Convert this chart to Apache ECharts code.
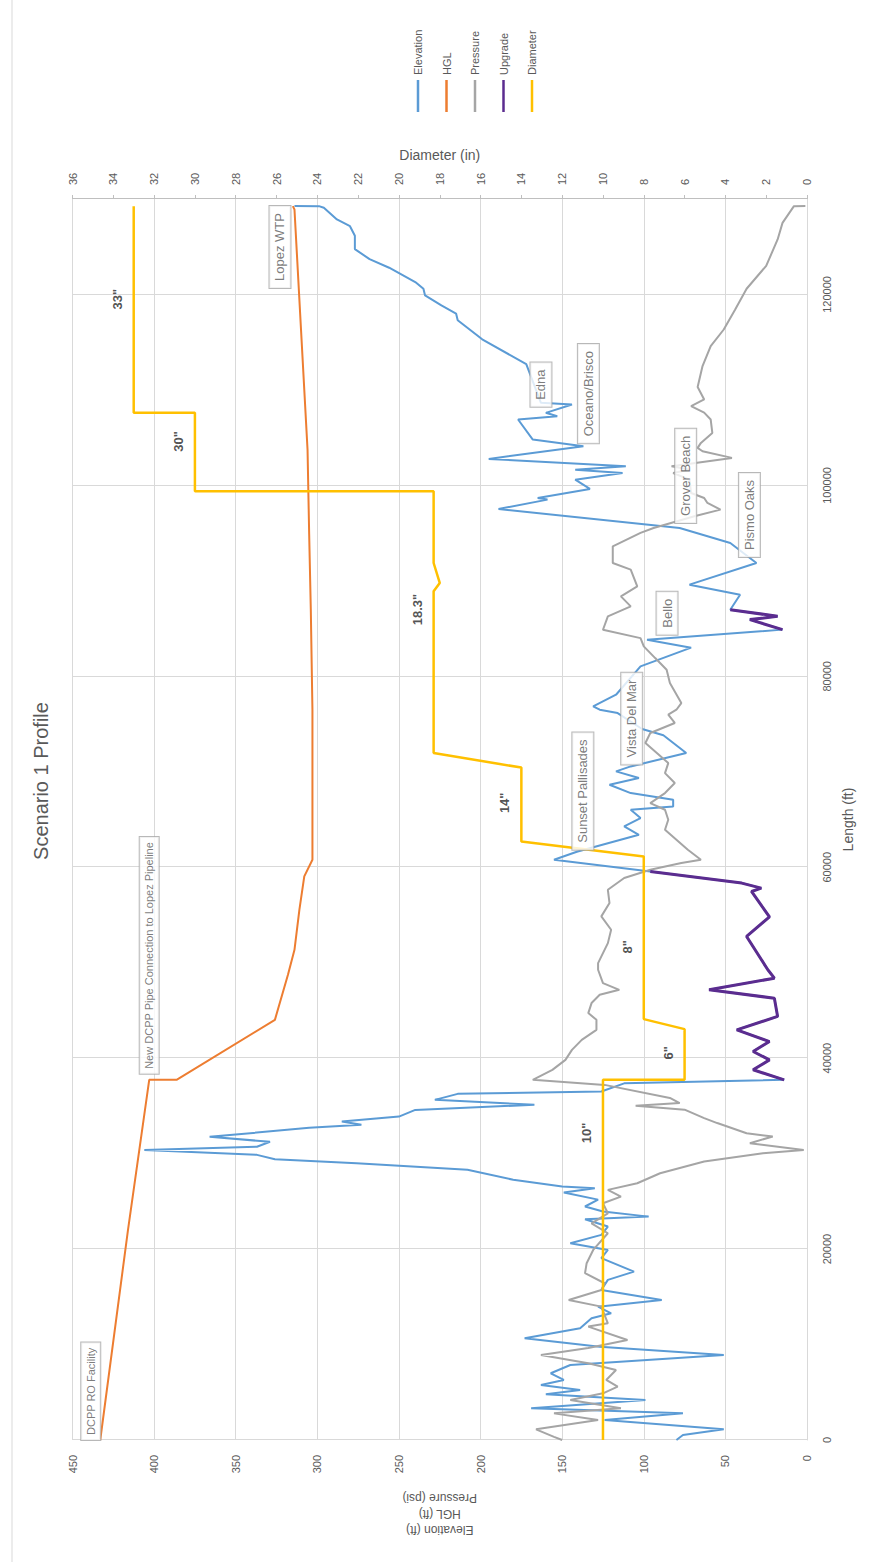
<!DOCTYPE html>
<html><head><meta charset="utf-8">
<script src="https://cdn.jsdelivr.net/npm/echarts@6/dist/echarts.min.js"></script>
<style>
html,body{margin:0;padding:0;width:875px;height:1562px;overflow:hidden;background:#fff;}
#wrap{position:absolute;left:0;top:0;width:1562px;height:875px;transform-origin:0 0;transform:translate(0,1562px) rotate(-90deg);}
#chart{width:1562px;height:875px;}
</style></head><body>
<div id="wrap"><div id="chart"></div></div>
<script>
// ---------- DATA (length ft, value) ----------
const elevA = [[0,80],[520,76],[1120,51],[2100,124],[2790,76],[3320,169],[4190,99],[4790,160],[5240,139],[5770,163],[6290,149],[6990,157],[7860,145],[8910,51],[9780,127],[10660,173],[11700,139],[12750,132],[13270,120],[13970,128],[14670,89],[15720,126],[16770,122],[17640,106],[19060,126],[19910,122],[20610,145],[21490,126],[22360,122],[23130,136],[23400,97],[23930,125],[24460,136],[25180,128],[25920,149],[26380,130],[26550,150],[27260,180],[28300,208],[28990,276],[29410,326],[29870,337],[30390,406],[30720,337],[31240,329],[31760,366],[32700,305],[33020,273],[33370,285],[33880,250],[34580,240],[35110,167],[35630,228],[36260,214],[36500,126],[37360,112]];
const upgradeA = [[37730,14],[38780,33],[39820,23],[40700,33],[41740,23],[42970,43],[44370,18],[46280,20],[47160,60],[48380,20],[49260,24],[52750,37],[54800,23],[57460,34],[57810,28],[58340,40],[59560,96]];
const elevB = [[60790,155],[61620,141],[63400,103],[64270,112],[65150,102],[66020,108],[66370,82],[67070,82],[67770,108],[68640,121],[69340,103],[70040,117],[70560,108],[71960,74],[73820,88],[74480,101],[76150,116],[76500,127],[76860,131],[78070,117],[81040,102],[83000,71],[83840,98]];
const upgradeB = [[84890,15],[85940,35],[86290,18],[86980,47]];
const elevC = [[88550,41],[89600,72],[91870,31],[93970,47],[95540,78],[97530,189],[98510,159],[98680,165],[99630,133],[100600,142],[101300,113],[101650,142],[102000,111],[102770,195],[104100,137],[104800,168],[106900,177],[107250,153],[107600,160],[108470,144],[108650,163],[112700,172],[115300,199],[117300,214],[118000,215],[118850,224],[119900,234],[120600,235],[121300,240],[122800,256],[123700,268],[124750,277],[126150,277],[127150,280],[127860,288],[129080,296],[129250,299],[129260,314]];
const hgl = [[0,433],[22010,416],[37730,403],[37740,386],[44010,326],[48730,318],[51350,314],[55540,311],[59040,308],[60790,303],[76500,303],[87000,304],[94870,305],[103750,306],[128900,314],[129260,315]];
const pressure = [[0,150],[330,155],[1120,166],[2100,128],[2790,155],[3320,114],[4190,145],[4890,125],[5590,116],[6290,123],[7340,117],[8040,134],[8910,163],[9640,134],[10480,110],[11880,134],[12220,122],[13970,126],[14670,146],[15720,126],[16420,124],[17470,136],[18520,135],[19910,131],[21660,122],[22700,132],[23750,122],[24800,125],[25500,114],[26200,122],[26900,104],[27940,90],[29170,63],[30040,27],[30390,2],[31090,35],[31790,21],[32140,37],[33200,55],[33720,63],[34600,75],[35020,105],[35300,78],[35830,84],[37200,124],[37730,168],[38770,156],[39820,148],[40870,144],[41920,138],[42970,129],[44020,129],[44720,134],[45770,132],[46640,127],[47160,115],[47860,125],[49260,128],[49950,128],[52050,122],[53450,120],[54850,126],[56250,121],[57640,122],[58870,112],[59740,96],[60440,77],[60790,65],[61830,73],[62880,80],[63920,87],[64970,85],[66020,87],[66720,96],[67770,87],[68820,81],[69860,87],[70910,85],[71960,92],[73010,99],[74060,96],[75110,81],[75980,85],[76500,80],[77200,77],[79290,84],[80690,86],[81910,93],[83140,100],[84000,102],[84880,125],[86280,122],[87330,108],[88370,114],[89420,104],[91170,108],[91870,119],[93620,119],[95020,102],[95540,94],[96760,69],[97460,53],[98160,61],[98680,63],[99200,71],[100600,72],[101300,82],[101650,72],[102000,83],[102880,46],[103580,64],[103930,67],[104450,65],[105500,58],[106900,59],[107620,63],[108300,71],[109000,63],[110300,67],[112500,64],[114600,59],[116330,51],[118430,44],[120600,37],[123000,25],[125760,18],[127500,15],[129250,8],[129260,1]];
const diameter = [[0,10],[37730,10],[37730,6],[43040,6],[44090,8],[61130,8],[62700,14],[70440,14],[71960,18.3],[88900,18.3],[89780,18.0],[91870,18.3],[99390,18.3],[99390,30],[107600,30],[107600,33],[129250,33]];
const diameterLabels = [[32170,10,'10"'],[40560,6,'6"'],[51660,8,'8"'],[66750,14,'14"'],[87000,18.3,'18.3"'],[104600,30,'30"'],[119500,33,'33"']];
const callouts = [
  ['DCPP RO Facility','hgl',0],
  ['New DCPP Pipe Connection to Lopez Pipeline','hgl',37730],
  ['Sunset Pallisades','elev',61620],
  ['Vista Del Mar','elev',70560],
  ['Bello','elev',83840],
  ['Pismo Oaks','elev',91870],
  ['Grover Beach','elev',95540],
  ['Oceano/Brisco','elev',104100],
  ['Edna','elev',108650],
  ['Lopez WTP','elev',129260]
];
const legendNames = ['Elevation','HGL','Pressure','Upgrade','Diameter'];

// ---------- BUILD ----------
const elevation = elevA.concat(upgradeA, elevB, upgradeB, elevC);
const upgrade = upgradeA.concat([[72000,'-']], upgradeB);
const seriesByKey = {elev: elevation, hgl: hgl};
function nearest(arr, x){ let best=arr[0]; for(const p of arr){ if(Math.abs(p[0]-x) < Math.abs(best[0]-x)) best=p; } return best; }

const BIG = {fontSize:13, padding:[4,7]};
const calloutPlacement = {
  'DCPP RO Facility': {position:'top', align:'left', distance:0},
  'New DCPP Pipe Connection to Lopez Pipeline': {position:'right', distance:6},
  'Sunset Pallisades': Object.assign({position:'right', distance:2, offset:[0,6]}, BIG),
  'Vista Del Mar': Object.assign({position:'right', distance:2, offset:[0,1]}, BIG),
  'Bello': Object.assign({position:'right', distance:5, offset:[0,20]}, BIG),
  'Pismo Oaks': Object.assign({position:'right', distance:6, offset:[0,-7]}, BIG),
  'Grover Beach': Object.assign({position:'right', distance:5, offset:[0,6]}, BIG),
  'Oceano/Brisco': Object.assign({position:'right', distance:3, offset:[0,5]}, BIG),
  'Edna': Object.assign({position:'right', distance:0, offset:[-4,0]}, BIG),
  'Lopez WTP': Object.assign({position:'top', align:'right', distance:4}, BIG)
};
const calloutData = callouts.map(c => {
  const p = nearest(seriesByKey[c[1]], c[2]);
  return {value:[p[0],p[1]], label:Object.assign({show:true, formatter:c[0]}, calloutPlacement[c[0]])};
});
const dLabelData = diameterLabels.map(d => ({value:[d[0],d[1]], label:{formatter:d[2]}}));

const FONT = "'Liberation Sans', Arial, sans-serif";
const GRAY = '#595959';
const chart = echarts.init(document.getElementById('chart'), null, {renderer:'svg'});
chart.setOption({
  animation:false,
  textStyle:{fontFamily:FONT},
  title:{text:'Scenario 1 Profile', left:'center', top:26, textStyle:{fontSize:20, fontWeight:'normal', color:GRAY, fontFamily:FONT}},
  legend:{data:legendNames, orient:'vertical', left:1445, top:406, icon:'rect', itemWidth:32, itemHeight:2.5, itemGap:14.5,
    textStyle:{fontSize:11, color:GRAY, lineHeight:14}},
  graphic:[{type:'line', shape:{x1:0,y1:12,x2:1562,y2:12}, style:{stroke:'#D9D9D9', lineWidth:1}}],
  grid:{left:122, right:199, top:72.5, bottom:68},
  xAxis:{type:'value', min:0, max:130000, interval:20000, name:'Length (ft)', nameLocation:'middle', nameGap:34,
    nameTextStyle:{fontSize:14, color:GRAY},
    axisLine:{show:true, lineStyle:{color:'#D9D9D9'}}, axisTick:{show:false},
    axisLabel:{color:GRAY, fontSize:11, margin:14, showMaxLabel:false, formatter:v=>String(v)},
    splitLine:{show:true, lineStyle:{color:'#D9D9D9'}}},
  yAxis:[
    {type:'value', min:0, max:450, interval:50, position:'left', name:'Elevation (ft)\nHGL (ft)\nPressure (psi)',
      nameLocation:'middle', nameRotate:90, nameGap:50, nameTextStyle:{fontSize:12, color:GRAY, lineHeight:16},
      axisLine:{show:false}, axisTick:{show:false}, axisLabel:{color:GRAY, fontSize:11, margin:15},
      splitLine:{show:true, lineStyle:{color:'#D9D9D9'}}},
    {type:'value', min:0, max:36, interval:2, position:'right', name:'Diameter (in)', nameLocation:'middle', nameRotate:-90, nameGap:34,
      nameTextStyle:{fontSize:14, color:GRAY},
      axisLine:{show:true, lineStyle:{color:'#BFBFBF'}}, axisTick:{show:true, length:4, lineStyle:{color:'#BFBFBF'}},
      axisLabel:{color:GRAY, fontSize:11, margin:14}, splitLine:{show:false}}
  ],
  series:[
    {name:'Elevation', type:'line', data:elevation, yAxisIndex:0, symbol:'none', lineStyle:{color:'#5B9BD5', width:2}, itemStyle:{color:'#5B9BD5'}},
    {name:'HGL', type:'line', data:hgl, yAxisIndex:0, symbol:'none', lineStyle:{color:'#ED7D31', width:2}, itemStyle:{color:'#ED7D31'}},
    {name:'Pressure', type:'line', data:pressure, yAxisIndex:0, symbol:'none', lineStyle:{color:'#A5A5A5', width:2}, itemStyle:{color:'#A5A5A5'}},
    {name:'Upgrade', type:'line', data:upgrade, yAxisIndex:0, symbol:'none', connectNulls:false, lineStyle:{color:'#5B2C8F', width:3}, itemStyle:{color:'#5B2C8F'}},
    {name:'Diameter', type:'line', data:diameter, yAxisIndex:1, symbol:'none', lineStyle:{color:'#FFC000', width:2.5}, itemStyle:{color:'#FFC000'}},
    {name:'diamLabels', type:'scatter', data:dLabelData, yAxisIndex:1, symbolSize:0, silent:true, z:5,
      label:{show:true, position:'top', distance:10, fontSize:13, fontWeight:'bold', color:'#262626'}},
    {name:'callouts', type:'scatter', data:calloutData, yAxisIndex:0, symbolSize:0, silent:true, z:6,
      label:{show:true, fontSize:11, color:GRAY, backgroundColor:'#fff', borderColor:'#A6A6A6', borderWidth:1, padding:[4,5]}}
  ]
});
</script>
</body></html>
